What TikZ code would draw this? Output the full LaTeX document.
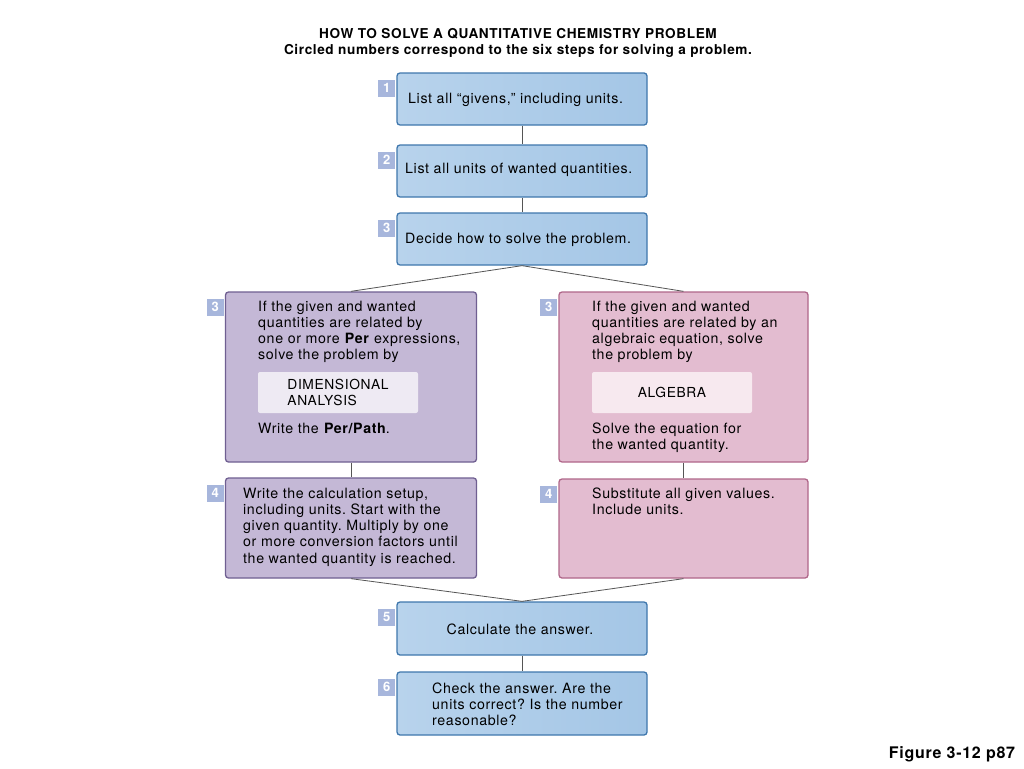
\documentclass[tikz,border=0pt]{standalone}
\usepackage{fontspec}
\setmainfont{TeX Gyre Heros}[LetterSpace=4.5]
\usetikzlibrary{positioning}
\frenchspacing
\definecolor{blueedge}{RGB}{63,119,173}
\definecolor{bluelight}{RGB}{184,211,236}
\definecolor{bluefill}{RGB}{164,198,230}
\definecolor{lilacedge}{RGB}{111,95,145}
\definecolor{lilacfill}{RGB}{196,184,214}
\definecolor{lilacinner}{RGB}{238,234,243}
\definecolor{roseedge}{RGB}{176,103,138}
\definecolor{rosefill}{RGB}{227,188,208}
\definecolor{roseinner}{RGB}{247,233,239}
\definecolor{badgeblue}{RGB}{167,182,220}
\definecolor{linkgray}{RGB}{85,85,85}

\begin{document}
\begin{tikzpicture}[x=1pt,y=-1pt,
  box/.style={rounded corners=3pt,line width=1.3pt,inner sep=0pt},
  bluebox/.style={box,draw=blueedge,left color=bluelight,right color=bluefill,minimum width=250pt,minimum height=52pt},
  lilacbox/.style={box,draw=lilacedge,fill=lilacfill,minimum width=251pt},
  rosebox/.style={box,draw=roseedge,fill=rosefill,minimum width=249pt},
  innerbox/.style={rounded corners=2pt,minimum width=160pt,minimum height=41pt,align=left,inner sep=0pt,font=\fontsize{13.8}{16.3}\selectfont},
  badge/.style={fill=badgeblue,text=white,font=\bfseries\fontsize{13}{13}\selectfont,minimum size=17pt,inner sep=0pt,anchor=north east},
  txt/.style={font=\fontsize{14.2}{16.3}\selectfont,align=left,inner sep=0pt,anchor=north west},
  link/.style={draw=linkgray,line width=0.8pt}]
\fill[white] (0,0) rectangle (1024,768);
\useasboundingbox (0,0) rectangle (1024,768);

% title
\node[font=\bfseries\fontsize{13.6}{16}\selectfont,align=center] (title) at (518,43)
  {HOW TO SOLVE A QUANTITATIVE CHEMISTRY PROBLEM\\
   Circled numbers correspond to the six steps for solving a problem.};

% steps in the middle column
\node[bluebox] (s1) at (522,99) {};
\node[bluebox] (s2) at (522,171) {};
\node[bluebox] (s3) at (522,239) {};
\node[bluebox,minimum height=53pt] (s5) at (522,628.5) {};
\node[bluebox,minimum height=63pt] (s6) at (522,703.5) {};

% the two ways
\node[lilacbox,minimum height=170pt] (d3) at (351,377) {};
\node[lilacbox,minimum height=100pt] (d4) at (351,528) {};
\node[rosebox,minimum height=170pt] (a3) at (683.5,377) {};
\node[rosebox,minimum height=99pt] (a4) at (683.5,528.5) {};

% numbers
\node[badge] (n1) at ([xshift=-1pt,yshift=-7pt]s1.north west) {1};
\node[badge] (n2) at ([xshift=-1pt,yshift=-7pt]s2.north west) {2};
\node[badge] (n3) at ([xshift=-1pt,yshift=-7pt]s3.north west) {3};
\node[badge] (n3d) at ([xshift=-1pt,yshift=-7pt]d3.north west) {3};
\node[badge] (n3a) at ([xshift=-1pt,yshift=-7pt]a3.north west) {3};
\node[badge] (n4d) at ([xshift=-1pt,yshift=-7pt]d4.north west) {4};
\node[badge] (n4a) at ([xshift=-1pt,yshift=-7pt]a4.north west) {4};
\node[badge] (n5) at ([xshift=-1pt,yshift=-7pt]s5.north west) {5};
\node[badge] (n6) at ([xshift=-1pt,yshift=-7pt]s6.north west) {6};

% texts
\node[txt,anchor=west] (t1) at (408,100) {List all ``givens,'' including units.};
\node[txt,anchor=west] (t2) at (405,170) {List all units of wanted quantities.};
\node[txt,anchor=west] (t3) at (405,240) {Decide how to solve the problem.};
\node[txt] (td3) at (258,300.5) {If the given and wanted\\quantities are related by\\one or more \textbf{Per} expressions,\\solve the problem by};
\node[innerbox,fill=lilacinner] (dim) at (338,392.5) {DIMENSIONAL\\ANALYSIS};
\node[txt,anchor=west] (tdp) at (258,428) {Write the \textbf{Per/Path}.};
\node[txt] (ta3) at (592,300.5) {If the given and wanted\\quantities are related by an\\algebraic equation, solve\\the problem by};
\node[innerbox,fill=roseinner] (alg) at (672,392.5) {ALGEBRA};
\node[txt] (tas) at (592,422.5) {Solve the equation for\\the wanted quantity.};
\node[txt] (td4) at (243,487.5) {Write the calculation setup,\\including units. Start with the\\given quantity. Multiply by one\\or more conversion factors until\\the wanted quantity is reached.};
\node[txt] (ta4) at (592,487.5) {Substitute all given values.\\Include units.};
\node[txt,anchor=center] (t5) at (520,629) {Calculate the answer.};
\node[txt] (t6) at (432,682.5) {Check the answer. Are the\\units correct? Is the number\\reasonable?};

\node[font=\bfseries\fontsize{16}{18}\selectfont] (fig) at (952,754) {Figure 3-12 p87};

% connectors
\draw[link] (s1.south) -- (s2.north);
\draw[link] (s2.south) -- (s3.north);
\draw[link] (s3.south) -- (d3.north);
\draw[link] (s3.south) -- (a3.north);
\draw[link] (d3.south) -- (d4.north);
\draw[link] (a3.south) -- (a4.north);
\draw[link] (d4.south) -- (s5.north);
\draw[link] (a4.south) -- (s5.north);
\draw[link] (s5.south) -- (s6.north);
\end{tikzpicture}
\end{document}
